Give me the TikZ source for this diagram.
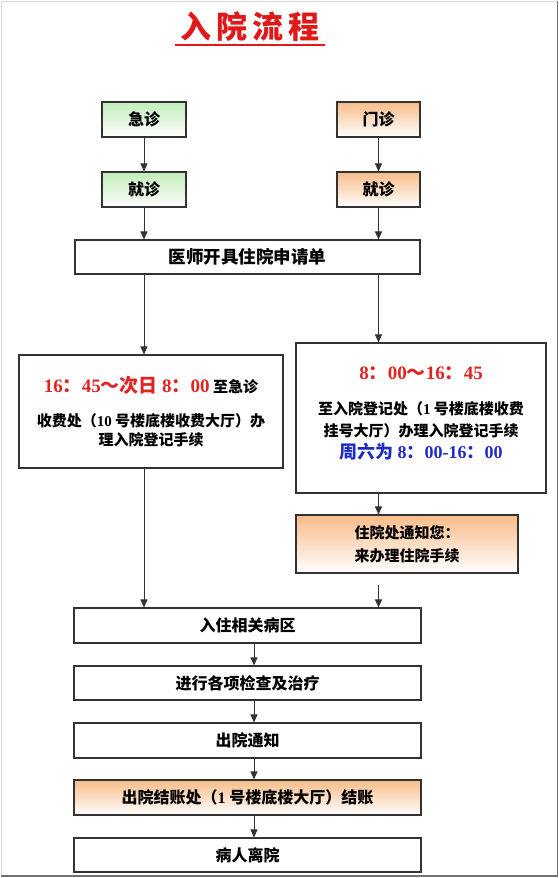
\documentclass[tikz,border=0pt]{standalone}
\usepackage{fontspec}
\setmainfont{Noto Sans CJK SC}
\newfontfamily\dgt{Liberation Serif}
\usetikzlibrary{arrows.meta}
\definecolor{lineGray}{HTML}{333333}
\definecolor{boxGreen}{HTML}{C2EDBA}
\definecolor{boxOrange}{HTML}{F8BC88}
\definecolor{titleRed}{HTML}{E0181A}
\definecolor{timeRed}{HTML}{E02422}
\definecolor{satBlue}{HTML}{1C2CC4}
\newcommand{\hm}[1]{{\dgt\bfseries #1}}

\begin{document}
\begin{tikzpicture}[x=1pt,y=-1pt,
  box/.style={draw=lineGray,line width=1.1pt,minimum height=35pt,inner sep=0pt,
    font=\fontsize{16}{19}\selectfont\bfseries},
  greenbox/.style={box,top color=boxGreen,bottom color=white,minimum width=84pt},
  orangebox/.style={box,top color=boxOrange,bottom color=white},
  widebox/.style={box,fill=white,minimum width=347pt},
  regbox/.style={box,fill=white,align=center,font=\fontsize{15}{22}\selectfont\bfseries},
  arr/.style={-{Triangle[length=8pt,width=7pt]},line width=0.9pt,lineGray}]
  \useasboundingbox (0,0) rectangle (559,878);
  % Rahmen
  \draw[black!15] (1.5,877) -- (1.5,1.5) -- (557,1.5);
  \draw[black!55,line width=1.5pt] (557.5,1) -- (557.5,876) -- (1,876);
  % Titel
  \node[font=\fontsize{31}{33}\selectfont\bfseries,text=titleRed] (title) at (250,27)
    {入\hspace{5pt}院\hspace{5pt}流\hspace{5pt}程};
  \draw[titleRed,line width=2pt] (175,45) -- (325,45);
  % obere Kaestchen
  \node[greenbox] (jizhen) at (144,119.5) {急诊};
  \node[orangebox,minimum width=83pt] (menzhen) at (378.5,119.5) {门诊};
  \node[greenbox] (jiuzhenL) at (144,189.5) {就诊};
  \node[orangebox,minimum width=83pt] (jiuzhenR) at (378.5,189.5) {就诊};
  \node[box,fill=white,minimum width=345pt,minimum height=34pt,
    font=\fontsize{17.5}{20}\selectfont\bfseries] (shenqing) at (247.5,257)
    {医师开具住院申请单};
  % Anmeldung
  \node[regbox,minimum width=264pt,minimum height=113pt] (jizhenReg) at (151,411.5)
    {{\color{timeRed}\fontsize{19}{22}\selectfont\hm{16}：\hm{45}～次日 \hm{8}：\hm{00}} 至急诊\\[12pt]
     收费处（\hm{10} 号楼底楼收费大厅）办\\[-3pt]
     理入院登记手续};
  \node[regbox,minimum width=250pt,minimum height=150pt] (menzhenReg) at (421,418)
    {{\color{timeRed}\fontsize{19}{22}\selectfont\hm{8}：\hm{00}～\hm{16}：\hm{45}}\\[13pt]
     至入院登记处（\hm{1} 号楼底楼收费\\
     挂号大厅）办理入院登记手续\\
     {\color{satBlue}\fontsize{18}{22}\selectfont 周六为 \hm{8}：\hm{00-16}：\hm{00}}\\[-12pt]
     \mbox{}};
  \node[orangebox,minimum width=222pt,minimum height=58pt,align=left,
    font=\fontsize{15}{23}\selectfont\bfseries] (notice) at (407,544)
    {住院处通知您：\\来办理住院手续};
  % untere Spalte
  \node[widebox] (ruzhu) at (247.5,625.5) {入住相关病区};
  \node[widebox,minimum height=34pt] (jiancha) at (247.5,683) {进行各项检查及治疗};
  \node[widebox] (chuyuan) at (247.5,740.5) {出院通知};
  \node[orangebox,minimum width=347pt] (jiezhang) at (247.5,797.5)
    {出院结账处（\hm{1} 号楼底楼大厅）结账};
  \node[widebox,minimum height=34pt] (likai) at (247.5,855) {病人离院};
  % Pfeile
  \draw[arr] (jizhen) -- (jiuzhenL);
  \draw[arr] (menzhen) -- (jiuzhenR);
  \draw[arr] (jiuzhenL) -- (jiuzhenL |- shenqing.north);
  \draw[arr] (jiuzhenR) -- (jiuzhenR |- shenqing.north);
  \draw[arr] (jiuzhenL |- shenqing.south) -- (jiuzhenL |- jizhenReg.north);
  \draw[arr] (jiuzhenR |- shenqing.south) -- (jiuzhenR |- menzhenReg.north);
  \draw[arr] (jiuzhenL |- jizhenReg.south) -- (jiuzhenL |- ruzhu.north);
  \draw[arr] (jiuzhenR |- menzhenReg.south) -- (jiuzhenR |- notice.north);
  \coordinate (gap) at (378.5,585);
  \draw[arr] (gap) -- (gap |- ruzhu.north);
  \coordinate (axis) at (254,0);
  \foreach \a/\b in {ruzhu/jiancha,jiancha/chuyuan,chuyuan/jiezhang,jiezhang/likai}
    \draw[arr] (axis |- \a.south) -- (axis |- \b.north);
\end{tikzpicture}
\end{document}
